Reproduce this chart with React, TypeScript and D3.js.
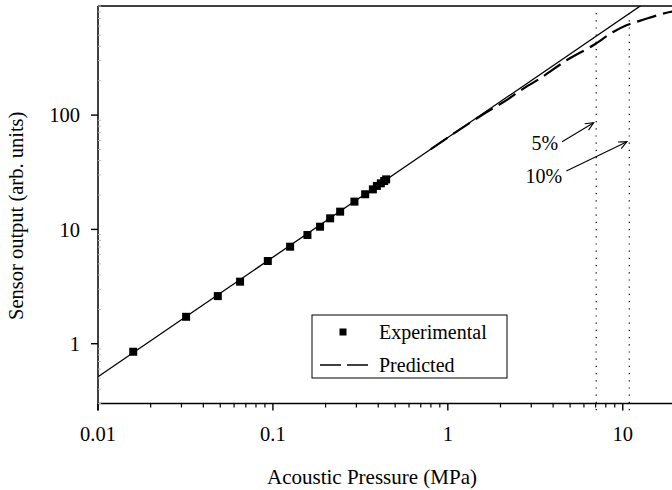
import React from "react";
import * as d3 from "d3";

// Experimental data (Acoustic pressure MPa, sensor output arb. units)
const expX = [0.0159, 0.0319, 0.0484, 0.0649, 0.0935, 0.1254, 0.1575, 0.186, 0.2124, 0.2423, 0.2925, 0.3369, 0.3728, 0.393, 0.414, 0.4327, 0.444];
const expY = [0.851, 1.72, 2.61, 3.49, 5.29, 7.06, 8.93, 10.56, 12.5, 14.3, 17.5, 20.3, 22.4, 24.0, 25.3, 26.5, 27.4];

// Linear (power-law) fit, solid line
const fitX = [0.01, 20];
const fitY = [0.514, 1460];

// Predicted response, dashed line
const predX = [0.8, 1.467, 1.748, 2.178, 2.596, 3.378, 4.8, 6.82, 8.87, 10.58, 12.61, 19.14, 20];
const predY = [50.3, 93.8, 110.8, 136, 164, 209.9, 303, 410, 536, 614, 670, 803, 812];

// Deviation markers
const devLabels = ["5%", "10%"];
const devX = [7.05, 10.9];
const arrowTailX = [4.5, 4.76];
const arrowTailY = [58.5, 32.4];
const arrowHeadX = [6.82, 10.58];
const arrowHeadY = [85.8, 58.5];
const labelX = [4.28, 4.51];
const labelY = [49.5, 25.5];

const xTicks = [0.01, 0.1, 1, 10];
const xTickLabels = ["0.01", "0.1", "1", "10"];
const yTicks = [1, 10, 100];
const yTickLabels = ["1", "10", "100"];

const xTitle = "Acoustic Pressure (MPa)";
const yTitle = "Sensor output (arb. units)";
const legendLabels = ["Experimental", "Predicted"];

const W = 672;
const H = 490;
const FONT = "'Liberation Serif', 'Times New Roman', serif";

export default function App() {
  const x = d3.scaleLog().domain([0.01, 20]).range([98, 675.4]);
  const y = d3.scaleLog().domain([0.3, 900]).range([403.5, 6]);
  const left = 98;
  const bottom = 403.5;
  const top = 6;

  const line = d3
    .line<[number, number]>()
    .x((d) => x(d[0]))
    .y((d) => y(d[1]));
  const curve = d3
    .line<[number, number]>()
    .x((d) => x(d[0]))
    .y((d) => y(d[1]))
    .curve(d3.curveMonotoneX);

  const fitData = fitX.map((v, i) => [v, fitY[i]] as [number, number]);
  const predData = predX.map((v, i) => [v, predY[i]] as [number, number]);

  const xMinor: number[] = [];
  for (const dec of [0.01, 0.1, 1, 10]) {
    for (let k = 2; k <= 9; k++) {
      const v = dec * k;
      if (v <= 20) xMinor.push(v);
    }
  }
  const yMinor: number[] = [];
  for (const dec of [0.1, 1, 10, 100]) {
    for (let k = 2; k <= 9; k++) {
      const v = dec * k;
      if (v >= 0.3 && v <= 900) yMinor.push(v);
    }
  }

  const arrowHead = (x1: number, y1: number, x2: number, y2: number) => {
    const ang = Math.atan2(y2 - y1, x2 - x1);
    const L = 9;
    const a = 0.42;
    const p1 = [x2 - L * Math.cos(ang - a), y2 - L * Math.sin(ang - a)];
    const p2 = [x2 - L * Math.cos(ang + a), y2 - L * Math.sin(ang + a)];
    return `M${p1[0]},${p1[1]}L${x2},${y2}L${p2[0]},${p2[1]}`;
  };

  const sq = 8;

  return (
    <div style={{ position: "absolute", left: 0, top: 0 }}>
      <svg width={W} height={H} style={{ display: "block", background: "#fff" }}>
        <defs>
          <clipPath id="plotclip">
            <rect x={left} y={top} width={W - left} height={bottom - top} />
          </clipPath>
        </defs>
        <rect x={0} y={0} width={W} height={H} fill="#fff" />

        {/* deviation dotted lines */}
        {devX.map((v, i) => (
          <line
            key={"dev" + i}
            x1={x(v)}
            x2={x(v)}
            y1={13}
            y2={413}
            stroke="#000"
            strokeWidth={1.2}
            strokeDasharray="1.2,6"
          />
        ))}

        <g clipPath="url(#plotclip)">
          <path d={line(fitData) || ""} fill="none" stroke="#000" strokeWidth={1.3} />
          <path
            d={curve(predData) || ""}
            fill="none"
            stroke="#000"
            strokeWidth={2.2}
            strokeDasharray="20,7"
          />
        </g>

        {/* axes */}
        <line x1={left} x2={left} y1={top} y2={bottom + 7} stroke="#000" strokeWidth={1.5} />
        <line x1={left} x2={W} y1={bottom} y2={bottom} stroke="#000" strokeWidth={1.5} />
        <line x1={left} x2={W} y1={top} y2={top} stroke="#000" strokeWidth={1.5} />

        {xMinor.map((v, i) => (
          <line key={"xm" + i} x1={x(v)} x2={x(v)} y1={bottom} y2={bottom + 4} stroke="#000" strokeWidth={1.2} />
        ))}
        {xTicks.map((v, i) => (
          <g key={"xt" + i}>
            <line x1={x(v)} x2={x(v)} y1={bottom} y2={bottom + 7} stroke="#000" strokeWidth={1.4} />
            <text
              x={x(v)}
              y={441}
              textAnchor="middle"
              fontFamily={FONT}
              fontSize={20.5}
              fill="#000"
            >
              {xTickLabels[i]}
            </text>
          </g>
        ))}
        {yMinor.map((v, i) => (
          <line key={"ym" + i} x1={left} x2={left + 3} y1={y(v)} y2={y(v)} stroke="#bbb" strokeWidth={1} />
        ))}
        {yTicks.map((v, i) => (
          <g key={"yt" + i}>
            <line x1={left - 7} x2={left} y1={y(v)} y2={y(v)} stroke="#000" strokeWidth={1.4} />
            <text
              x={80}
              y={y(v)}
              dy="0.35em"
              textAnchor="end"
              fontFamily={FONT}
              fontSize={20.5}
              fill="#000"
            >
              {yTickLabels[i]}
            </text>
          </g>
        ))}

        {/* experimental points */}
        {expX.map((v, i) => (
          <rect
            key={"p" + i}
            x={x(v) - sq / 2}
            y={y(expY[i]) - sq / 2}
            width={sq}
            height={sq}
            fill="#000"
          />
        ))}

        {/* annotations */}
        {devLabels.map((lab, i) => {
          const x1 = x(arrowTailX[i]);
          const y1 = y(arrowTailY[i]);
          const x2 = x(arrowHeadX[i]);
          const y2 = y(arrowHeadY[i]);
          return (
            <g key={"an" + i}>
              <line x1={x1} y1={y1} x2={x2} y2={y2} stroke="#000" strokeWidth={1.1} />
              <path d={arrowHead(x1, y1, x2, y2)} fill="none" stroke="#000" strokeWidth={1.1} />
              <text
                x={x(labelX[i])}
                y={y(labelY[i])}
                textAnchor="end"
                fontFamily={FONT}
                fontSize={20}
                fill="#000"
              >
                {lab}
              </text>
            </g>
          );
        })}

        {/* legend */}
        <rect x={312} y={315} width={195} height={63} fill="#fff" stroke="#000" strokeWidth={1} />
        <rect x={343 - 3.5} y={332 - 3.5} width={7} height={7} fill="#000" />
        <text x={379} y={339} fontFamily={FONT} fontSize={20} fill="#000">
          {legendLabels[0]}
        </text>
        <line x1={320} x2={368} y1={365} y2={365} stroke="#000" strokeWidth={1.5} strokeDasharray="21,6" />
        <text x={379} y={372} fontFamily={FONT} fontSize={20} fill="#000">
          {legendLabels[1]}
        </text>

        {/* axis titles */}
        <text x={372} y={484} textAnchor="middle" fontFamily={FONT} fontSize={21} fill="#000">
          {xTitle}
        </text>
        <text
          transform={`translate(23,320) rotate(-90)`}
          textAnchor="start"
          fontFamily={FONT}
          fontSize={20.5}
          fill="#000"
        >
          {yTitle}
        </text>
      </svg>
    </div>
  );
}
